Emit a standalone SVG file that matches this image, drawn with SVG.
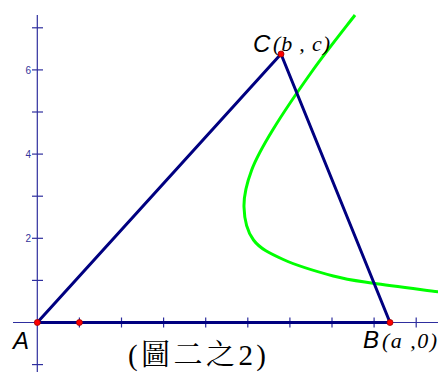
<svg xmlns="http://www.w3.org/2000/svg" width="438" height="372" viewBox="0 0 438 372">
<style>
.axis{stroke:#2e2e9e;stroke-width:1.2;fill:none}
.tick{stroke:#2e2e9e;stroke-width:1.2}
.tri{stroke:#000080;stroke-width:3;fill:none;stroke-linejoin:round;stroke-linecap:round}
.curve{stroke:#00ff00;stroke-width:3;fill:none}
.pt{fill:#ff0000;stroke:#990000;stroke-width:0.8}
.num{font-family:"Liberation Sans",Arial,sans-serif;font-size:10px;fill:#33339a;text-anchor:end}
.lab{font-family:"Liberation Sans",Arial,sans-serif;font-size:24px;font-style:italic;fill:#000}
.coord{font-family:"Liberation Serif","Times New Roman",serif;font-size:22px;font-style:italic;fill:#000}
.cap{font-family:"Liberation Serif","Noto Serif CJK TC","Noto Sans CJK TC",serif;font-size:29px;fill:#000}
</style>
<g id="axes">
<line class="axis" x1="13" y1="322.5" x2="438" y2="322.5"/>
<line class="axis" x1="37.3" y1="15" x2="37.3" y2="372"/>
<g id="yticks">
<line class="tick" x1="32" y1="27.8" x2="43" y2="27.8"/>
<line class="tick" x1="32" y1="69.9" x2="43" y2="69.9"/>
<line class="tick" x1="32" y1="112" x2="43" y2="112"/>
<line class="tick" x1="32" y1="154.1" x2="43" y2="154.1"/>
<line class="tick" x1="32" y1="196.2" x2="43" y2="196.2"/>
<line class="tick" x1="32" y1="238.3" x2="43" y2="238.3"/>
<line class="tick" x1="32" y1="280.4" x2="43" y2="280.4"/>
<line class="tick" x1="32" y1="364.6" x2="43" y2="364.6"/>
</g>
<g id="xticks">
<line class="tick" x1="79.4" y1="317.5" x2="79.4" y2="327.5"/>
<line class="tick" x1="121.5" y1="317.5" x2="121.5" y2="327.5"/>
<line class="tick" x1="163.6" y1="317.5" x2="163.6" y2="327.5"/>
<line class="tick" x1="205.7" y1="317.5" x2="205.7" y2="327.5"/>
<line class="tick" x1="247.8" y1="317.5" x2="247.8" y2="327.5"/>
<line class="tick" x1="289.9" y1="317.5" x2="289.9" y2="327.5"/>
<line class="tick" x1="332" y1="317.5" x2="332" y2="327.5"/>
<line class="tick" x1="374.1" y1="317.5" x2="374.1" y2="327.5"/>
<line class="tick" x1="416.2" y1="317.5" x2="416.2" y2="327.5"/>
</g>
<text class="num" x="31" y="73.5">6</text>
<text class="num" x="31" y="157.7">4</text>
<text class="num" x="31" y="241.9">2</text>
</g>
<g id="locus">
<path class="curve" d="M355,15 C348,24.2 326.7,50.8 313,70 C299.3,89.2 282.9,113.3 272.7,130 C262.5,146.7 256.5,157.2 251.7,170 C246.9,182.8 243.7,195.3 244,207 C244.3,218.7 247,231.25 253.5,240 C260.05,248.75 270,253.5 283.3,259.5 C296.6,265.5 318.3,272 333.3,276 C348.3,280 355.9,280.7 373.3,283.3 C390.75,285.9 427.2,290.3 440,292"/>
</g>
<g id="connectors">
<polygon class="tri" points="37.3,322.5 390,322.5 281,54"/>
</g>
<g id="A">
<circle class="pt" cx="37.3" cy="322.5" r="3"/>
<text class="lab" x="13" y="349">A</text>
</g>
<g id="P">
<circle class="pt" cx="79.4" cy="322.5" r="3"/>
</g>
<g id="B">
<circle class="pt" cx="390" cy="322.5" r="3"/>
<text class="lab" x="363" y="348">B</text>
<text class="coord" x="382" y="348" textLength="55" lengthAdjust="spacing">(a ,0)</text>
</g>
<g id="C">
<circle class="pt" cx="281" cy="54" r="3"/>
<text class="lab" x="253" y="52">C</text>
<text class="coord" x="273" y="51" textLength="57" lengthAdjust="spacing">(b , c)</text>
</g>
<g id="caption">
<text class="cap" x="128" y="365" textLength="138" lengthAdjust="spacing">(圖二之2)</text>
</g>
</svg>
